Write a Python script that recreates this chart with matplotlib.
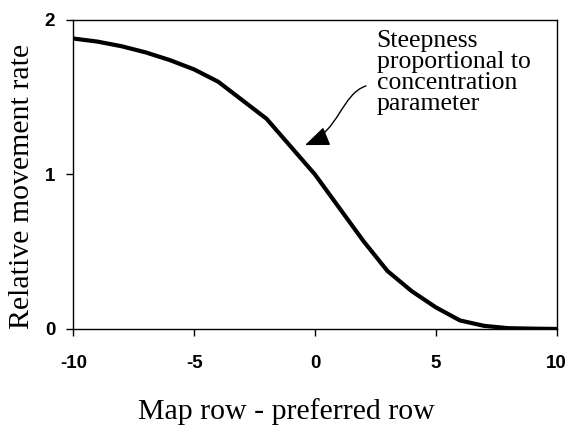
import matplotlib
matplotlib.use('Agg')
import matplotlib.pyplot as plt
from matplotlib.patches import FancyArrowPatch
from matplotlib.path import Path

plt.rcParams['axes.unicode_minus'] = False

# values
row_offset = [-10, -9, -8, -7, -6, -5, -4, -3, -2, -1, 0,
              1, 2, 3, 4, 5, 6, 7, 8, 9, 10]
movement_rate = [1.88, 1.86, 1.83, 1.79, 1.74, 1.68, 1.60, 1.48, 1.36, 1.18, 1.00,
                 0.785, 0.57, 0.375, 0.245, 0.14, 0.055, 0.02, 0.005, 0.002, 0.0]
x_ticks = [-10, -5, 0, 5, 10]
y_ticks = [0, 1, 2]
note = 'Steepness\nproportional to\nconcentration\nparameter'

fig = plt.figure(figsize=(5.68, 4.25), dpi=100)
ax = fig.add_axes([0.129, 0.226, 0.851, 0.727])

ax.plot(row_offset, movement_rate, color='black', lw=3, solid_joinstyle='miter')

ax.set_xlim(-10, 10)
ax.set_ylim(0, 2)
ax.set_xticks(x_ticks)
ax.set_yticks(y_ticks)
for s in ax.spines.values():
    s.set_linewidth(1)
ax.tick_params(axis='both', direction='out', length=5, width=1)
ax.tick_params(axis='x', pad=14)
ax.tick_params(axis='y', pad=8)
for lab in ax.get_xticklabels() + ax.get_yticklabels():
    lab.set_fontfamily('Liberation Sans')
    lab.set_fontweight('bold')
    lab.set_fontsize(13.5)

ax.set_xlabel('Map row - preferred row', family='Liberation Serif', fontsize=21.5)
ax.set_ylabel('Relative movement rate', family='Liberation Serif', fontsize=21.5)
ax.xaxis.set_label_coords(0.44, -0.225)
ax.yaxis.set_label_coords(-0.08, 0.46)

ax.text(2.55, 1.935, note, family='Liberation Serif', fontsize=18.5,
        ha='left', va='top', linespacing=0.95)

# wavy pointer from the note down to the curve
pointer = Path([(2.11, 1.573), (1.1, 1.52), (1.0, 1.28), (-0.41, 1.19)],
               [Path.MOVETO, Path.CURVE4, Path.CURVE4, Path.CURVE4])
ax.add_patch(FancyArrowPatch(path=pointer, arrowstyle='-|>,head_length=0.75,head_width=0.3',
                             mutation_scale=20, color='black', lw=1))

fig.savefig('out.png', dpi=100)
